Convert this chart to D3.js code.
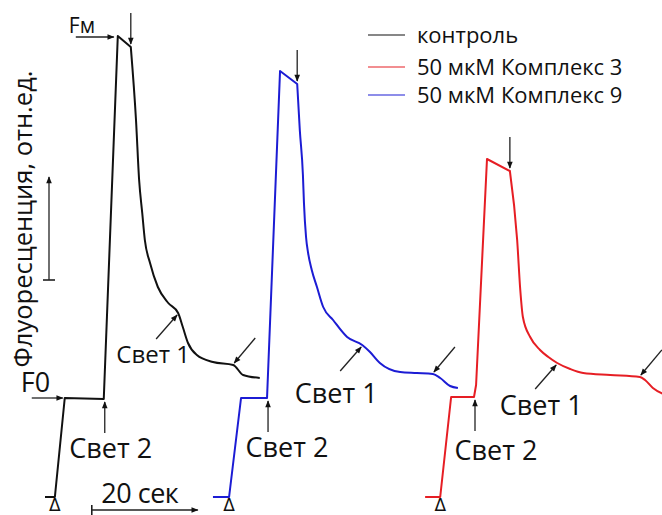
<!DOCTYPE html>
<html>
<head>
<meta charset="utf-8">
<script src="https://cdn.jsdelivr.net/npm/d3@7"></script>
<style>
  body { margin: 0; background: #fff; }
  text { font-family: "Open Sans", "Noto Sans", sans-serif; fill: #111; }
</style>
</head>
<body>
<svg id="chart" width="662" height="515"></svg>
<script>
// Fluorescence induction traces: time in s from the start of each trace,
// fluorescence in relative units (0 = dark baseline, 1 = F0).
const controlTime  = [0, 1.9, 3.8, 11.3, 14.0, 16.5, 17.5, 18.1, 18.7, 19.2, 20.2, 21.7, 23.7, 25.6, 26.5, 27.5, 29.2, 32.3, 36.2, 38.1, 41.3];
const controlFluor = [0, 0, 0.99, 0.98, 4.61, 4.50, 3.77, 3.17, 2.84, 2.57, 2.34, 2.10, 1.94, 1.84, 1.70, 1.54, 1.42, 1.35, 1.32, 1.22, 1.19];

const complex9Time  = [0, 3.1, 5.4, 10.4, 12.9, 16.2, 16.7, 17.3, 17.5, 17.9, 18.3, 19.0, 20.0, 21.2, 23.1, 25.8, 28.7, 30.2, 32.1, 36.0, 39.2, 42.3, 43.7, 45.6, 47.1];
const complex9Fluor = [0, 0, 0.99, 0.99, 4.26, 4.13, 3.67, 3.22, 2.94, 2.60, 2.44, 2.27, 2.10, 1.90, 1.77, 1.60, 1.52, 1.45, 1.34, 1.25, 1.24, 1.23, 1.19, 1.11, 1.09];

const complex3Time  = [0, 2.9, 5.0, 9.4, 9.8, 11.9, 16.3, 17.7, 18.3, 18.8, 20.2, 22.1, 23.7, 25.4, 27.9, 30.4, 35.6, 41.3, 42.3, 43.8, 45.8];
const complex3Fluor = [0, 0, 1.00, 1.00, 1.12, 3.38, 3.26, 2.57, 2.07, 1.80, 1.60, 1.47, 1.40, 1.34, 1.28, 1.24, 1.22, 1.20, 1.17, 1.09, 1.03];

// Event times (s, per trace): light 2 on, peak, light off, light 1 on, light 1 off
const controlEvents  = { light2: 11.3, peak: 14.0, off: 16.5, light1: 25.6, end: 36.2 };
const complex9Events = { light2: 10.4, peak: 12.9, off: 16.2, light1: 28.7, end: 42.3 };
const complex3Events = { light2: 9.4,  peak: 11.9, off: 16.3, light1: 25.4, end: 41.3 };

const legendLabels = ["контроль", "50 мкМ Комплекс 3", "50 мкМ Комплекс 9"];
const light1Label = "Свет 1";
const light2Label = "Свет 2";
const yAxisLabel = "Флуоресценция, отн.ед.";
const scaleBarSeconds = 20;
const scaleBarLabel = "20 сек";
const yBarUnits = 1;

// ---- layout ----
const svg = d3.select("#chart");
const x = d3.scaleLinear().domain([0, 125]).range([45, 45 + 125 * 5.2]);
const y = d3.scaleLinear().domain([0, 5]).range([497, -3]);

const traces = [
  { t: controlTime,  f: controlFluor,  ev: controlEvents,  start: 0,    color: "#111111",
    light2Text: [7, 59, 27], light1Text: [-25, 50, 24] },
  { t: complex9Time, f: complex9Fluor, ev: complex9Events, start: 32.3, color: "#1c1cd4",
    light2Text: [20, 59, 27], light1Text: [-26, 58, 27] },
  { t: complex3Time, f: complex3Fluor, ev: complex3Events, start: 73.1, color: "#e61e24",
    light2Text: [22, 63, 27], light1Text: [-16, 52, 27] }
];

const defs = svg.append("defs");
defs.append("marker")
  .attr("id", "head")
  .attr("viewBox", "0 0 10 10")
  .attr("refX", 9).attr("refY", 5)
  .attr("markerWidth", 10).attr("markerHeight", 7)
  .attr("markerUnits", "userSpaceOnUse")
  .attr("orient", "auto")
  .append("path").attr("d", "M0,1 L10,5 L0,9 Z").attr("fill", "#111");

function arrow(x1, y1, x2, y2) {
  svg.append("line")
    .attr("x1", x1).attr("y1", y1).attr("x2", x2).attr("y2", y2)
    .attr("stroke", "#222").attr("stroke-width", 1.3)
    .attr("marker-end", "url(#head)");
}

// sharp steps up to the light-off point, smooth decay afterwards
const lineSharp = d3.line().curve(d3.curveLinear);
const lineSmooth = d3.line().curve(d3.curveMonotoneX);

function pointAt(tr, time) {
  const i = d3.minIndex(tr.t, v => Math.abs(v - time));
  return [x(tr.start + tr.t[i]), y(tr.f[i])];
}

traces.forEach((tr) => {
  const pts = tr.t.map((v, i) => [x(tr.start + v), y(tr.f[i])]);
  const iOff = d3.minIndex(tr.t, v => Math.abs(v - tr.ev.off));
  const d = lineSharp(pts.slice(0, iOff + 1)) + lineSmooth(pts.slice(iOff)).replace(/^M/, "L");
  svg.append("path")
    .attr("d", d)
    .attr("fill", "none")
    .attr("stroke", tr.color)
    .attr("stroke-width", 2)
    .attr("stroke-linejoin", "round");

  // start-of-record marker
  const s = pointAt(tr, tr.t[1]);
  svg.append("text").attr("x", s[0]).attr("y", 511)
    .attr("text-anchor", "middle").attr("font-size", 17)
    .style("font-family", "DejaVu Sans").text("Δ");

  // light 2 switched on (arrow from below)
  const p2 = pointAt(tr, tr.ev.light2);
  arrow(p2[0] + 1, p2[1] + 34, p2[0] + 1, p2[1] + 3);
  svg.append("text")
    .attr("x", p2[0] + tr.light2Text[0]).attr("y", p2[1] + tr.light2Text[1])
    .attr("text-anchor", "middle").attr("font-size", tr.light2Text[2])
    .text(light2Label);

  // light off (arrow from above)
  const po = pointAt(tr, tr.ev.off);
  arrow(po[0], po[1] - 34, po[0], po[1] - 3);

  // light 1 switched on (arrow from lower left)
  const p1 = pointAt(tr, tr.ev.light1);
  arrow(p1[0] - 22, p1[1] + 26, p1[0] - 1, p1[1] + 2);
  svg.append("text")
    .attr("x", p1[0] + tr.light1Text[0]).attr("y", p1[1] + tr.light1Text[1])
    .attr("text-anchor", "middle").attr("font-size", tr.light1Text[2])
    .text(light1Label);

  // light 1 switched off (arrow from upper right)
  const pe = pointAt(tr, tr.ev.end);
  arrow(pe[0] + 22, pe[1] - 27, pe[0] + 1, pe[1] - 2);
});

// F0 and Fm markers on the control trace
const ctl = traces[0];
const f0 = pointAt(ctl, ctl.t[2]);
arrow(f0[0] - 33, f0[1], f0[0] - 2, f0[1]);
svg.append("text").attr("x", f0[0] - 44).attr("y", f0[1] - 6)
  .attr("font-size", 27).text("F0");

const fm = pointAt(ctl, ctl.ev.peak);
arrow(fm[0] - 42, fm[1] + 1, fm[0] - 4, fm[1] + 1);
svg.append("text").attr("x", fm[0] - 49).attr("y", fm[1] - 3)
  .attr("font-size", 21).text("Fм");

// vertical scale arrow and axis title
const yb0 = y(2.17), yb1 = y(2.17 + yBarUnits + 0.03);
svg.append("line").attr("x1", 43).attr("x2", 55).attr("y1", yb0).attr("y2", yb0)
  .attr("stroke", "#111").attr("stroke-width", 1.5);
arrow(49, yb0, 49, yb1);
svg.append("text")
  .attr("transform", "translate(32,219) rotate(-90)")
  .attr("text-anchor", "middle").attr("font-size", 25.5)
  .text(yAxisLabel);

// time scale bar
const sb0 = x(9), sb1 = x(9 + scaleBarSeconds);
svg.append("line").attr("x1", sb0).attr("x2", sb0).attr("y1", 505).attr("y2", 515)
  .attr("stroke", "#111").attr("stroke-width", 1.5);
arrow(sb0, 510, sb1 + 2, 510);
svg.append("text").attr("x", (sb0 + sb1) / 2 - 4).attr("y", 503)
  .attr("text-anchor", "middle").attr("font-size", 27)
  .attr("letter-spacing", -0.5).text(scaleBarLabel);

// legend
const legendColors = [traces[0].color, traces[2].color, traces[1].color];
const legendY = [35, 67, 95];
legendLabels.forEach((lab, i) => {
  svg.append("line").attr("x1", 368).attr("x2", 405)
    .attr("y1", legendY[i]).attr("y2", legendY[i])
    .attr("stroke", legendColors[i]).attr("stroke-width", 1.2);
  svg.append("text").attr("x", 417).attr("y", legendY[i] + 8)
    .attr("font-size", 22).text(lab);
});
</script>
</body>
</html>
